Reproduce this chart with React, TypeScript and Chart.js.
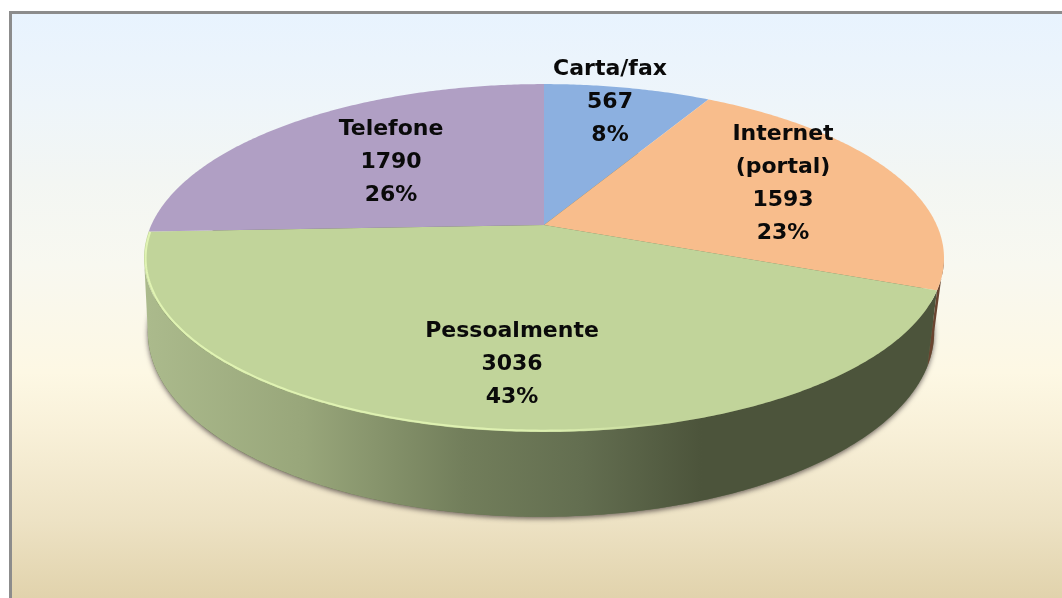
import React, { useEffect, useRef } from "react";
import { Chart, registerables } from "chart.js";

Chart.register(...registerables);

const categories = ["Carta/fax", "Internet\n(portal)", "Pessoalmente", "Telefone"];
const values = [567, 1593, 3036, 1790];
const sliceColors = ["#8CB0E0", "#F8BD8C", "#C1D49A", "#B09FC4"];
const wallColors = ["#4F6A8C", "#6A4530", "", ""];

// Layout: centre of each label block (x) and its first line's middle (y).
const labelAnchors = [
  { x: 610, y: 69 },
  { x: 783, y: 134 },
  { x: 512, y: 331 },
  { x: 391, y: 129 },
];

const PERSPECTIVE = 0.19;
const TOP_PLANE = { cx: 544, cy: 225, a: 392.7, b: 167.7 };
const BOTTOM_PLANE = { cx: 541, cy: 297, a: 386, b: 178 };
const LINE_HEIGHT = 33;
const FONT = 'bold 22px "DejaVu Sans"';
// Angles where the disc's edge turns from the visible front to the hidden back.
const FRONT_START = Math.asin(PERSPECTIVE);
const FRONT_END = Math.PI - FRONT_START;

type Plane = typeof TOP_PLANE;

function project(plane: Plane, angle: number) {
  const x = Math.cos(angle);
  const y = Math.sin(angle);
  const w = 1 - PERSPECTIVE * y;
  return { x: plane.cx + (plane.a * x) / w, y: plane.cy + (plane.b * y) / w };
}

function samples(a0: number, a1: number) {
  const n = Math.max(2, Math.ceil(Math.abs(a1 - a0) / 0.01));
  const out: number[] = [];
  for (let i = 0; i <= n; i++) out.push(a0 + ((a1 - a0) * i) / n);
  return out;
}

function wallPath(ctx: CanvasRenderingContext2D, start: number, end: number) {
  const a0 = Math.max(start, FRONT_START);
  const a1 = Math.min(end, FRONT_END);
  if (a1 <= a0) return false;
  ctx.beginPath();
  samples(a0, a1).forEach((t, i) => {
    const p = project(TOP_PLANE, t);
    if (i === 0) ctx.moveTo(p.x, p.y);
    else ctx.lineTo(p.x, p.y);
  });
  samples(a1, a0).forEach((t) => {
    const p = project(BOTTOM_PLANE, t);
    ctx.lineTo(p.x, p.y);
  });
  ctx.closePath();
  return true;
}

const tiltedPie = {
  id: "tiltedPie",
  beforeDatasetDraw(chart: any) {
    const ctx: CanvasRenderingContext2D = chart.ctx;
    const arcs = chart.getDatasetMeta(0).data;

    const wallGradient = ctx.createLinearGradient(147, 0, 940, 0);
    wallGradient.addColorStop(0, "#ABBA8C");
    wallGradient.addColorStop(0.2, "#98A67A");
    wallGradient.addColorStop(0.4, "#727E5B");
    wallGradient.addColorStop(0.55, "#636E50");
    wallGradient.addColorStop(0.7, "#4C543B");
    wallGradient.addColorStop(1, "#4C543B");

    const fillFor = (i: number) => wallColors[i] || wallGradient;

    // Soft shadow of the disc's lower face.
    ctx.save();
    ctx.shadowColor = "rgba(70,60,60,0.75)";
    ctx.shadowBlur = 5;
    ctx.shadowOffsetY = 2;
    ctx.beginPath();
    samples(0, Math.PI * 2).forEach((t, i) => {
      const p = project(BOTTOM_PLANE, t);
      if (i === 0) ctx.moveTo(p.x, p.y);
      else ctx.lineTo(p.x, p.y);
    });
    ctx.closePath();
    ctx.fillStyle = "#6A7353";
    ctx.fill();
    ctx.restore();

    arcs.forEach((arc: any, i: number) => {
      if (wallPath(ctx, arc.startAngle, arc.endAngle)) {
        ctx.fillStyle = fillFor(i);
        ctx.fill();
      }
    });

    arcs.forEach((arc: any) => {
      ctx.beginPath();
      ctx.moveTo(TOP_PLANE.cx, TOP_PLANE.cy);
      samples(arc.startAngle, arc.endAngle).forEach((t) => {
        const p = project(TOP_PLANE, t);
        ctx.lineTo(p.x, p.y);
      });
      ctx.closePath();
      ctx.fillStyle = arc.options.backgroundColor;
      ctx.fill();
    });

    // Bevel highlight on the front rim of the largest slice.
    const largest = arcs[2];
    const rim = ctx.createLinearGradient(147, 0, 680, 0);
    rim.addColorStop(0, "rgba(226,245,180,0.95)");
    rim.addColorStop(0.75, "rgba(226,245,180,0.85)");
    rim.addColorStop(1, "rgba(226,245,180,0)");
    ctx.beginPath();
    samples(largest.startAngle, largest.endAngle).forEach((t, i) => {
      const p = project(TOP_PLANE, t);
      const q = { x: p.x + (544 - p.x) * 0.004, y: p.y + (258 - p.y) * 0.008 };
      if (i === 0) ctx.moveTo(q.x, q.y);
      else ctx.lineTo(q.x, q.y);
    });
    ctx.strokeStyle = rim;
    ctx.lineWidth = 2;
    ctx.stroke();
    return false;
  },
  afterDatasetsDraw(chart: any) {
    const ctx: CanvasRenderingContext2D = chart.ctx;
    const total = values.reduce((s, v) => s + v, 0);
    ctx.save();
    ctx.font = FONT;
    ctx.fillStyle = "#0A0A0A";
    ctx.textAlign = "center";
    ctx.textBaseline = "middle";
    ctx.filter = "blur(0.45px)";
    categories.forEach((name, i) => {
      const lines = [
        ...name.split("\n"),
        String(values[i]),
        `${Math.round((values[i] / total) * 100)}%`,
      ];
      lines.forEach((line, j) => {
        ctx.fillText(line, labelAnchors[i].x, labelAnchors[i].y + j * LINE_HEIGHT);
      });
    });
    ctx.restore();
  },
};

export default function App() {
  const ref = useRef<HTMLCanvasElement>(null);
  useEffect(() => {
    document.body.style.margin = "0";
    const chart = new Chart(ref.current!, {
      type: "pie",
      data: {
        labels: categories.map((c) => c.replace("\n", " ")),
        datasets: [{ data: values, backgroundColor: sliceColors, borderWidth: 0 }],
      },
      options: {
        responsive: false,
        animation: false,
        plugins: { legend: { display: false }, tooltip: { enabled: false } },
      },
      plugins: [tiltedPie],
    });
    return () => chart.destroy();
  }, []);
  return (
    <div style={{ position: "relative", width: 1062, height: 598, overflow: "hidden", background: "#fff" }}>
      <div
        style={{
          position: "absolute",
          left: 9,
          top: 11,
          width: 1060,
          height: 600,
          boxSizing: "border-box",
          borderLeft: "3px solid #8C8C8C",
          borderTop: "3px solid #8C8C8C",
          background:
            "linear-gradient(180deg,#E8F3FE 0%,#EEF5FA 15%,#F3F6F3 28%,#F8F8F0 42%,#FDF8E4 60%,#F8F0D8 70%,#EDE2C4 85%,#DFD0A8 100%)",
        }}
      />
      <canvas ref={ref} width={1062} height={598} style={{ position: "absolute", left: 0, top: 0 }} />
    </div>
  );
}
